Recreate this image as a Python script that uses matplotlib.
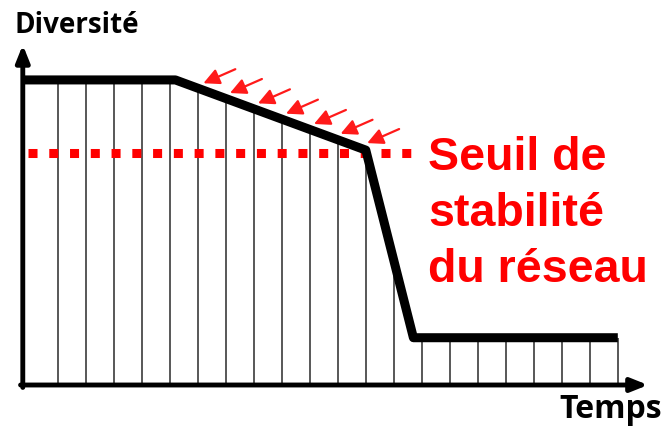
import numpy as np
import matplotlib
matplotlib.use("Agg")
import matplotlib.pyplot as plt

# ---- data ----
curve_time = [-0.25, 5.2, 12.0, 13.7, 21.0]
curve_diversity = [100, 100, 77, 15.5, 15.5]
grid_times = list(range(1, 22))
threshold = 76
arrow_times = [6.2, 7.15, 8.15, 9.15, 10.15, 11.1, 12.05]
y_label = "Diversité"
x_label = "Temps"
threshold_label = "Seuil de\nstabilité\ndu réseau"

fig = plt.figure(figsize=(6.71, 4.30), dpi=100)
ax = fig.add_axes([0, 0, 1, 1])
ax.set_xlim(-1.064, 22.9)
ax.set_ylim(-14.75, 126.2)
ax.axis("off")

# thin vertical grid lines up to the curve
tops = np.interp(grid_times, curve_time, curve_diversity)
ax.vlines(grid_times, 0, tops, color="#2a2a2a", lw=1.1, zorder=2)

# threshold dotted line
ax.plot([-0.05, 13.7], [threshold, threshold], color="#ff0000", lw=6.5,
        linestyle=(0, (1.0, 1.3)), dash_capstyle="butt", zorder=3)

# main curve
ax.plot(curve_time, curve_diversity, color="black", lw=6.5,
        solid_joinstyle="round", solid_capstyle="butt", zorder=4)

# axes with arrows
ax.annotate("", xy=(-0.25, 111.5), xytext=(-0.25, -0.8),
            arrowprops=dict(arrowstyle="-|>,head_length=0.5,head_width=0.2",
                            lw=3.5, color="black", shrinkA=0, shrinkB=0,
                            mutation_scale=20), zorder=5)
ax.annotate("", xy=(22.08, 0), xytext=(-0.33, 0),
            arrowprops=dict(arrowstyle="-|>,head_length=0.5,head_width=0.2",
                            lw=3.5, color="black", shrinkA=0, shrinkB=0,
                            mutation_scale=20), zorder=5)

# red pressure arrows
for t in arrow_times:
    y = np.interp(min(t, 12.0), curve_time, curve_diversity) + 2.3
    ax.annotate("", xy=(t, y), xytext=(t + 1.14, y + 4.6),
                arrowprops=dict(arrowstyle="-|>,head_length=0.6,head_width=0.3",
                                lw=1.6, color="#ff1a1a", shrinkA=0, shrinkB=0,
                                mutation_scale=16), zorder=6)

# labels
ax.text(-0.53, 115.4, y_label, fontsize=20, fontweight="bold",
        family="Open Sans", va="baseline", ha="left", color="black")
ax.text(18.9, -10.8, x_label, fontsize=23, fontweight="bold",
        family="Open Sans", va="baseline", ha="left", color="black")
ax.text(14.22, 33.8, threshold_label, fontsize=33.5, fontweight="bold",
        family="Liberation Sans", va="baseline", ha="left", color="#ff0000",
        linespacing=1.35)

fig.savefig("out.png", dpi=100)
